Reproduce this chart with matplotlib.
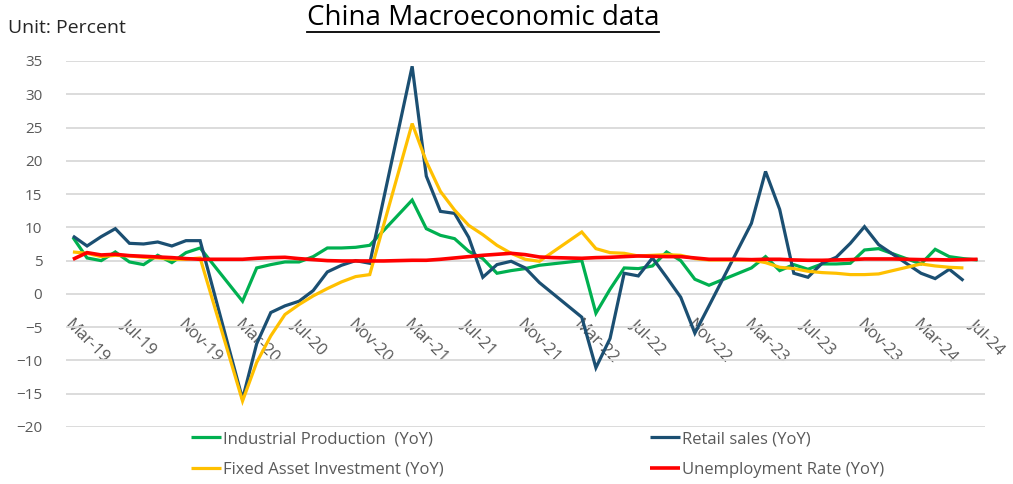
import numpy as np
import pandas as pd
import matplotlib
matplotlib.use("Agg")
import matplotlib.pyplot as plt
from matplotlib.lines import Line2D
from matplotlib import font_manager

nan = np.nan

# Monthly categories, Mar-2019 .. Jul-2024
months = pd.date_range("2019-03-01", "2024-07-01", freq="MS")
month_labels = [d.strftime("%b-%y") for d in months]

# Industrial production, YoY % (Jan/Feb not published separately)
industrial_production = [
    8.5, 5.4, 5.0, 6.3, 4.8, 4.4, 5.8, 4.7, 6.2, 6.9,
    nan, nan, -1.1, 3.9, 4.4, 4.8, 4.8, 5.6, 6.9, 6.9, 7.0, 7.3,
    nan, nan, 14.1, 9.8, 8.8, 8.3, 6.4, 5.3, 3.1, 3.5, 3.8, 4.3,
    nan, nan, 5.0, -2.9, 0.7, 3.9, 3.8, 4.2, 6.3, 5.0, 2.2, 1.3,
    nan, nan, 3.9, 5.6, 3.5, 4.4, 3.7, 4.5, 4.5, 4.6, 6.6, 6.8,
    nan, nan, 4.5, 6.7, 5.6, 5.3, 5.1,
]

# Retail sales, YoY %
retail_sales = [
    8.7, 7.2, 8.6, 9.8, 7.6, 7.5, 7.8, 7.2, 8.0, 8.0,
    nan, nan, -15.8, -7.5, -2.8, -1.8, -1.1, 0.5, 3.3, 4.3, 5.0, 4.6,
    nan, nan, 34.2, 17.7, 12.4, 12.1, 8.5, 2.5, 4.4, 4.9, 3.9, 1.7,
    nan, nan, -3.5, -11.1, -6.7, 3.1, 2.7, 5.4, 2.5, -0.5, -5.9, -1.8,
    nan, nan, 10.6, 18.4, 12.7, 3.1, 2.5, 4.6, 5.5, 7.6, 10.1, 7.4,
    nan, nan, 3.1, 2.3, 3.7, 2.0, nan,
]

# Fixed asset investment, YoY %
fixed_asset_investment = [
    6.3, 6.1, 5.6, 5.8, 5.7, 5.5, 5.4, 5.2, 5.2, 5.4,
    nan, nan, -16.1, -10.3, -6.3, -3.1, -1.6, -0.3, 0.8, 1.8, 2.6, 2.9,
    nan, nan, 25.6, 19.9, 15.4, 12.6, 10.3, 8.9, 7.3, 6.1, 5.2, 4.9,
    nan, nan, 9.3, 6.8, 6.2, 6.1, 5.7, 5.8, 5.9, 5.8, 5.3, 5.1,
    nan, nan, 5.1, 4.7, 4.0, 3.8, 3.4, 3.2, 3.1, 2.9, 2.9, 3.0,
    nan, nan, 4.5, 4.2, 4.0, 3.9, nan,
]

# Unemployment rate, %
unemployment_rate = [
    5.2, 6.2, 5.85, 5.95, 5.75, 5.65, 5.55, 5.45, 5.3, 5.2,
    5.2, 5.2, 5.2, 5.35, 5.45, 5.5, 5.3, 5.15, 5.0, 4.95,
    4.95, 4.95, 4.95, 5.0, 5.05, 5.05, 5.2, 5.4, 5.6, 5.8,
    5.95, 6.1, 5.9, 5.55, 5.45, 5.4, 5.35, 5.45, 5.5, 5.6,
    5.7, 5.65, 5.6, 5.6, 5.4, 5.2, 5.2, 5.2, 5.15, 5.2,
    5.2, 5.1, 5.05, 5.05, 5.1, 5.15, 5.25, 5.25, 5.25, 5.2,
    5.15, 5.15, 5.1, 5.15, 5.2,
]

series_names = [
    "Industrial Production  (YoY)",
    "Retail sales (YoY)",
    "Fixed Asset Investment (YoY)",
    "Unemployment Rate (YoY)",
]
series_values = [industrial_production, retail_sales, fixed_asset_investment, unemployment_rate]
series_colors = ["#00B050", "#1B4F72", "#FFC000", "#FF0000"]
series_widths = [2.3, 2.3, 2.3, 2.6]

y_ticks = list(range(-20, 40, 5))

available = {f.name for f in font_manager.fontManager.ttflist}
family = next((f for f in ["Open Sans", "Noto Sans", "DejaVu Sans"] if f in available), "DejaVu Sans")
plt.rcParams["font.family"] = family

TEXT_GREY = "#595959"

fig = plt.figure(figsize=(10.13, 4.84), dpi=100)
ax = fig.add_axes([0.065, 0.1178, 0.907, 0.7562])

x_all = np.arange(len(months))
handles = []
for name, vals, col, lw in zip(series_names, series_values, series_colors, series_widths):
    v = np.asarray(vals, dtype=float)
    keep = ~np.isnan(v)
    (h,) = ax.plot(x_all[keep], v[keep], color=col, lw=lw, label=name,
                   solid_joinstyle="miter", solid_capstyle="butt")
    handles.append(h)

ax.set_xlim(-0.5, len(months) - 0.5)
ax.set_ylim(-20, 35)
ax.set_yticks(y_ticks)
ax.yaxis.grid(True, color="#D9D9D9", lw=1.3)
ax.set_axisbelow(True)
for s in ax.spines.values():
    s.set_visible(False)

# category labels sit next to the zero line
ax.spines["bottom"].set_position(("data", 0))
ax.set_xticks(x_all[::4])
ax.set_xticklabels(month_labels[::4])
ax.tick_params(axis="x", length=0, pad=16, labelsize=12, labelcolor=TEXT_GREY)
ax.tick_params(axis="y", length=0, pad=17, labelsize=11, labelcolor=TEXT_GREY)
for lab in ax.get_xticklabels():
    lab.set_rotation(-45)
    lab.set_ha("left")
    lab.set_va("top")
    lab.set_rotation_mode("anchor")

# legend: two columns, two rows
order = [0, 2, 1, 3]
leg = fig.legend([handles[i] for i in order], [series_names[i] for i in order],
                 ncol=2, loc="upper left", bbox_to_anchor=(191 / 1013, 1 - 431 / 484),
                 frameon=False, fontsize=12, handlelength=1.8, handletextpad=0.1,
                 columnspacing=12.4, labelspacing=0.9, borderpad=0, borderaxespad=0)
for t in leg.get_texts():
    t.set_color(TEXT_GREY)

fig.text(8 / 1013, 1 - 28 / 484, "Unit: Percent", fontsize=14, color="#262626",
         ha="left", va="center")
title = fig.text(483 / 1013, 1 - 18 / 484, "China Macroeconomic data", fontsize=20,
                 color="#000000", ha="center", va="center")

# underline the title
fig.canvas.draw()
bb = title.get_window_extent(renderer=fig.canvas.get_renderer())
fig.add_artist(Line2D([bb.x0 / fig.bbox.width, bb.x1 / fig.bbox.width],
                      [1 - 32 / 484, 1 - 32 / 484], transform=fig.transFigure,
                      color="#000000", lw=1.3))

fig.savefig("out.png", dpi=100)
